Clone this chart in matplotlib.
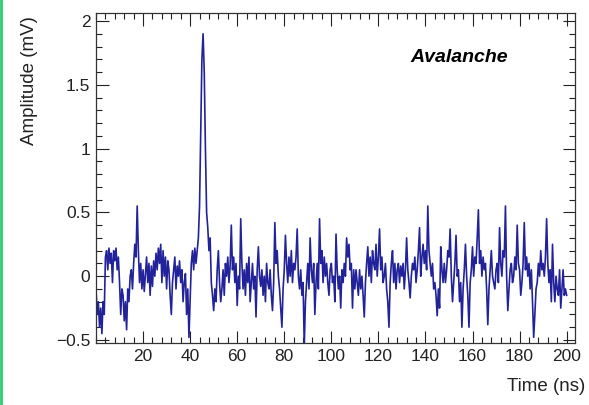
import numpy as np
import matplotlib.pyplot as plt
from matplotlib.ticker import MultipleLocator

# waveform, 0.5 ns sampling, 0 - 200 ns
seg_0_20 = [-0.1, -0.3, -0.2, -0.4, -0.25, -0.45, -0.2, -0.3, 0.15, 0.2,
            0.05, 0.22, 0.1, 0.18, -0.05, 0.2, 0.12, 0.22, 0.05, 0.15,
            -0.05, -0.3, -0.1, -0.15, -0.35, -0.2, -0.42, -0.1, -0.2, 0.0,
            0.05, -0.1, 0.1, 0.25, 0.15, 0.55, 0.2, -0.05, 0.1, -0.1]
seg_20_40 = [0.05, -0.12, 0.02, 0.15, -0.05, 0.1, -0.15, 0.08, -0.08, 0.12,
             0.0, 0.18, 0.05, 0.22, 0.1, 0.25, -0.05, 0.2, 0.0, 0.15,
             -0.1, 0.12, 0.05, -0.15, -0.3, -0.05, 0.05, 0.15, -0.1, 0.08,
             0.0, 0.12, -0.05, 0.05, -0.2, -0.05, 0.02, -0.3, -0.1, -0.48]
seg_40_60 = [-0.2, 0.1, 0.2, 0.05, 0.22, 0.1, 0.2, 0.3, 0.55, 1.1,
             1.7, 1.9, 1.6, 1.0, 0.5, 0.38, 0.2, 0.3, -0.05, -0.15,
             -0.27, -0.1, -0.2, 0.05, 0.2, -0.05, -0.2, -0.1, 0.05, -0.15,
             0.1, 0.0, 0.15, -0.05, 0.08, 0.4, 0.05, 0.15, -0.05, 0.1]
seg_60_80 = [-0.23, 0.0, -0.1, 0.45, 0.1, -0.1, 0.05, -0.15, 0.1, -0.05,
             0.15, -0.2, -0.05, 0.1, -0.1, 0.0, -0.32, 0.05, 0.23, 0.0,
             -0.08, 0.05, -0.15, 0.0, -0.2, 0.1, -0.05, -0.1, 0.05, -0.15,
             -0.27, -0.05, 0.42, 0.1, 0.2, 0.0, -0.1, -0.25, -0.4, -0.1]
seg_80_100 = [0.05, 0.32, 0.1, -0.05, 0.15, 0.0, 0.2, -0.05, 0.1, 0.05,
              0.15, 0.37, 0.0, -0.1, 0.05, -0.15, -0.05, -0.55, -0.2, -0.05,
              0.1, -0.1, 0.3, 0.05, -0.05, 0.1, -0.3, -0.05, 0.1, -0.1,
              0.45, 0.1, 0.2, -0.05, 0.15, 0.0, 0.1, -0.05, -0.15, 0.05]
seg_100_120 = [0.1, -0.05, 0.0, -0.2, 0.33, 0.05, -0.1, 0.0, -0.25, 0.05,
               -0.05, 0.1, 0.0, 0.3, 0.15, 0.25, 0.05, 0.1, -0.25, 0.05,
               -0.1, 0.05, -0.05, -0.15, 0.05, -0.1, 0.0, -0.15, -0.32, -0.05,
               0.1, 0.23, 0.0, 0.15, -0.05, 0.2, 0.1, 0.05, 0.25, 0.0]
seg_120_140 = [0.15, 0.37, 0.05, 0.15, -0.05, 0.0, 0.1, -0.1, -0.2, -0.4,
               -0.05, 0.1, 0.2, -0.05, 0.1, -0.1, 0.05, 0.1, -0.05, 0.08,
               0.0, 0.1, -0.1, 0.05, 0.3, 0.05, -0.05, -0.17, 0.0, 0.1,
               0.05, 0.15, -0.05, 0.05, 0.2, 0.38, 0.0, 0.15, 0.25, 0.1]
seg_140_160 = [0.2, 0.05, 0.55, 0.2, 0.1, 0.0, 0.1, -0.1, -0.05, -0.15,
               -0.31, -0.1, -0.25, 0.23, 0.05, -0.05, 0.1, -0.05, 0.05, 0.2,
               0.15, 0.37, 0.0, -0.2, -0.05, 0.1, 0.32, 0.0, 0.05, -0.2,
               -0.05, -0.4, -0.1, 0.05, 0.25, 0.0, -0.15, -0.4, -0.05, 0.05]
seg_160_180 = [0.23, 0.0, 0.15, 0.1, 0.3, 0.52, 0.1, 0.2, 0.0, 0.15,
               0.05, 0.1, -0.1, -0.38, -0.1, 0.05, 0.2, 0.0, -0.05, -0.1,
               0.05, 0.1, -0.05, 0.38, 0.1, 0.0, 0.2, 0.15, 0.55, 0.0,
               -0.27, -0.1, 0.05, 0.1, -0.05, 0.0, 0.15, 0.05, 0.4, 0.1]
seg_180_200 = [0.05, -0.15, -0.05, 0.1, 0.42, 0.05, 0.15, 0.0, 0.1, -0.1,
               0.05, -0.2, -0.48, -0.3, -0.1, -0.05, 0.1, 0.0, 0.2, 0.05,
               0.1, 0.0, 0.15, 0.45, 0.1, -0.05, 0.05, -0.2, 0.25, -0.05,
               -0.2, 0.0, -0.1, -0.15, 0.05, -0.25, -0.1, 0.05, -0.15, -0.1,
               -0.15]

amplitude = (seg_0_20 + seg_20_40 + seg_40_60 + seg_60_80 + seg_80_100 +
             seg_100_120 + seg_120_140 + seg_140_160 + seg_160_180 + seg_180_200)
time_ns = np.arange(len(amplitude)) * 0.5

x_ticks = [20, 40, 60, 80, 100, 120, 140, 160, 180, 200]
y_ticks = [-0.5, 0, 0.5, 1, 1.5, 2]
y_ticklabels = ["\u22120.5", "0", "0.5", "1", "1.5", "2"]

plt.rcParams['font.family'] = ['Liberation Sans', 'DejaVu Sans']

fig = plt.figure(figsize=(5.89, 4.05), dpi=100)
ax = fig.add_axes([0.163, 0.153, 0.813, 0.815])

ax.plot(time_ns, amplitude, color='#22229a', lw=1.2)

ax.set_xlim(0, 203.5)
ax.set_ylim(-0.524, 2.063)
ax.set_xticks(x_ticks)
ax.set_yticks(y_ticks)
ax.set_yticklabels(y_ticklabels)
ax.xaxis.set_minor_locator(MultipleLocator(4))
ax.yaxis.set_minor_locator(MultipleLocator(0.1))
ax.tick_params(which='both', direction='in', top=True, right=True,
               labelsize=12.5, colors='#222222', width=0.8)
ax.tick_params(which='major', length=9, pad=4)
ax.tick_params(which='minor', length=4.5)
for s in ax.spines.values():
    s.set_linewidth(0.9)
    s.set_color('#333333')

ax.set_xlabel('Time (ns)', fontsize=13.5, color='#222222')
ax.xaxis.set_label_coords(1.021, -0.105)
ax.xaxis.label.set_horizontalalignment('right')
ax.set_ylabel('Amplitude (mV)', fontsize=13.5, color='#222222')
ax.yaxis.set_label_coords(-0.121, 0.99)
ax.yaxis.label.set_horizontalalignment('right')

ax.text(0.758, 0.864, 'Avalanche', transform=ax.transAxes, fontsize=14,
        fontweight='bold', fontstyle='italic', ha='center', va='center')

# green screenshot edge on the left
fig.add_artist(plt.Line2D([0.002, 0.002], [0, 1], transform=fig.transFigure,
                          color='#2ecc71', lw=2))

fig.savefig('out.png', dpi=100)
